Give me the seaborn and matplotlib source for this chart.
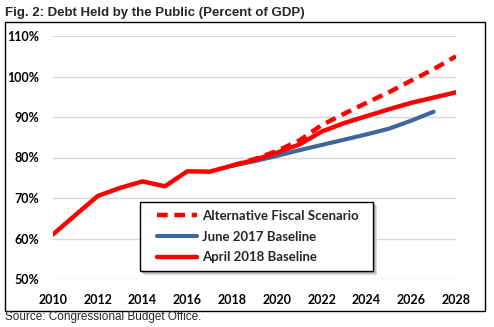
import matplotlib
matplotlib.use("Agg")
import matplotlib.pyplot as plt
import seaborn as sns
import pandas as pd
from matplotlib.patches import Rectangle

# Debt held by the public, percent of GDP
hist_years = [2010, 2011, 2012, 2013, 2014, 2015, 2016, 2017]
hist_vals = [61.0, 65.8, 70.5, 72.5, 74.1, 72.9, 76.6, 76.5]

apr2018_years = [2018, 2019, 2020, 2021, 2022, 2023, 2024, 2025, 2026, 2027, 2028]
apr2018_vals = [78.0, 79.4, 81.2, 83.2, 86.4, 88.5, 90.2, 91.9, 93.5, 94.8, 96.1]

jun2017_years = [2018, 2019, 2020, 2021, 2022, 2023, 2024, 2025, 2026, 2027]
jun2017_vals = [78.0, 79.1, 80.4, 81.8, 83.1, 84.4, 85.7, 87.1, 89.1, 91.3]

alt_years = [2018, 2019, 2020, 2021, 2022, 2023, 2024, 2025, 2026, 2027, 2028]
alt_vals = [78.0, 79.6, 81.6, 84.2, 88.0, 90.8, 93.5, 96.1, 99.0, 101.8, 105.0]

labels = ["Alternative Fiscal Scenario", "June 2017 Baseline", "April 2018 Baseline"]
x_ticks = list(range(2010, 2029, 2))
y_ticks = list(range(50, 111, 10))

RED = "#FF0000"
BLUE = "#41669A"
W, H = 494, 327


def fx(px):
    return px / W


def fy(py):
    return 1 - py / H


sns.set_theme(style="white")
plt.rcParams["font.family"] = ["Lato", "DejaVu Sans"]

fig = plt.figure(figsize=(W / 100, H / 100), dpi=100)
ax = fig.add_axes([fx(53), fy(279), 403 / W, 243 / H])

apr = pd.DataFrame({"year": hist_years + apr2018_years, "pct": hist_vals + apr2018_vals})
jun = pd.DataFrame({"year": jun2017_years, "pct": jun2017_vals})
alt = pd.DataFrame({"year": alt_years, "pct": alt_vals})

sns.lineplot(data=jun, x="year", y="pct", ax=ax, color=BLUE, lw=3.0,
             label=labels[1], zorder=3)
sns.lineplot(data=apr, x="year", y="pct", ax=ax, color=RED, lw=3.2,
             label=labels[2], zorder=4)
sns.lineplot(data=alt, x="year", y="pct", ax=ax, color=RED, lw=3.2,
             label=labels[0], zorder=5)
ax.lines[-1].set_linestyle((0, (2.4, 1.5)))

handles, labs = ax.get_legend_handles_labels()
if ax.get_legend() is not None:
    ax.get_legend().remove()

ax.set_xlim(2010, 2028)
ax.set_ylim(50, 110)
ax.set_xticks(x_ticks)
ax.set_yticks(y_ticks)
ax.set_yticklabels([f"{v}%" for v in y_ticks])
ax.set_xlabel("")
ax.set_ylabel("")
ax.tick_params(axis="both", length=0, labelsize=9, colors="black")
ax.tick_params(axis="y", pad=10)
ax.tick_params(axis="x", pad=11)
for t in ax.get_xticklabels() + ax.get_yticklabels():
    t.set_fontweight("bold")
ax.grid(axis="y", color="#D9D9D9", lw=1.0)
ax.grid(axis="x", visible=False)
for s in ax.spines.values():
    s.set_visible(False)

# legend box with a soft drop shadow
for off, col in [(4, "#DADADA"), (3, "#C4C4C4"), (2, "#ABABAB")]:
    fig.patches.append(Rectangle((fx(140 + off), fy(271 + off)), 233 / W, 69 / H,
                                 transform=fig.transFigure, facecolor=col,
                                 edgecolor="none", zorder=8))
fig.patches.append(Rectangle((fx(140), fy(271)), 233 / W, 69 / H,
                             transform=fig.transFigure, facecolor="white",
                             edgecolor="black", lw=1.0, zorder=9))

order = [labs.index(l) for l in labels]
leg = fig.legend([handles[i] for i in order], [labs[i] for i in order],
                 loc="center left", bbox_to_anchor=(fx(157), fy(236.5)),
                 bbox_transform=fig.transFigure,
                 borderaxespad=0, borderpad=0, frameon=False,
                 handlelength=3.0, handletextpad=0.38, labelspacing=0.68,
                 prop={"family": "Lato", "weight": "bold", "size": 9.5})
leg.set_zorder(10)

# outer frame around the chart
fig.patches.append(Rectangle((fx(5), fy(311)), 480 / W, 289 / H,
                             transform=fig.transFigure, fill=False,
                             edgecolor="black", lw=1.0))

fig.text(fx(5), fy(13), "Fig. 2: Debt Held by the Public (Percent of GDP)",
         family="Liberation Sans", weight="bold", fontsize=9.5, va="center", ha="left")
fig.text(fx(5), fy(317), "Source: Congressional Budget Office.",
         family="Liberation Sans", fontsize=8.5, va="center", ha="left")

fig.savefig("out.png", dpi=100)
